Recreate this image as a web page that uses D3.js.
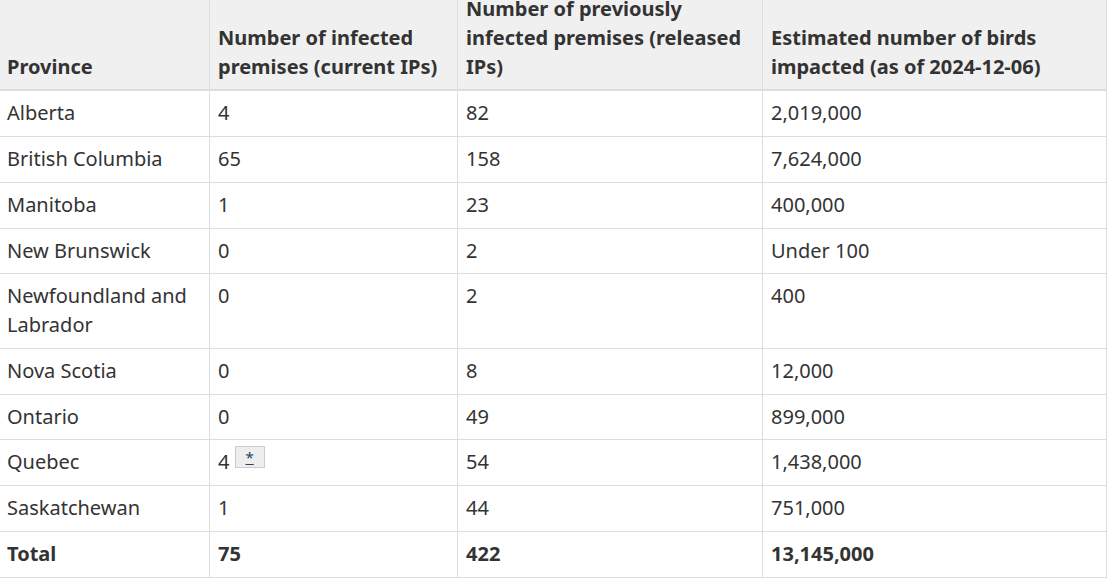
<!DOCTYPE html>
<html><head><meta charset="utf-8">
<script src="https://cdn.jsdelivr.net/npm/d3@7"></script>
<style>
html,body{margin:0;padding:0;background:#fff;overflow:hidden;width:1117px;height:585px;}
body{font-family:"Noto Sans",sans-serif;font-size:20px;line-height:1.4375;color:#333;}
#wrap{position:absolute;left:-2px;top:-14px;}
table{border-collapse:collapse;table-layout:fixed;}
th,td{border:1px solid #ddd;padding:8px;text-align:left;}
thead th{background:#f0f0f0;vertical-align:bottom;border-bottom:2px solid #ddd;font-weight:700;}
td{vertical-align:top;}
tr.total td{font-weight:700;}
.fn{display:inline-block;position:relative;top:-2px;vertical-align:top;box-sizing:border-box;width:30px;height:22px;line-height:20px;font-size:15px;text-align:center;background:#eee;border:1px solid #ccc;}
.fn a{color:#284162;text-decoration:underline;}
</style></head>
<body><div id="wrap"></div>
<script>
const headers = ["Province", "Number of infected premises (current IPs)", "Number of previously infected premises (released IPs)", "Estimated number of birds impacted (as of 2024-12-06)"];
const provinces = ["Alberta", "British Columbia", "Manitoba", "New Brunswick", "Newfoundland and Labrador", "Nova Scotia", "Ontario", "Quebec", "Saskatchewan"];
const currentIPs = [4, 65, 1, 0, 0, 0, 0, 4, 1];
const releasedIPs = [82, 158, 23, 2, 2, 8, 49, 54, 44];
const birdsImpacted = ["2,019,000", "7,624,000", "400,000", "Under 100", "400", "12,000", "899,000", "1,438,000", "751,000"];
const footnoteProvinces = ["Quebec"];
const totalRow = ["Total", "75", "422", "13,145,000"];
const colWidths = [211, 248, 305, 344];

const table = d3.select("#wrap").append("table").style("width", d3.sum(colWidths) + "px");
table.append("colgroup").selectAll("col").data(colWidths).join("col").style("width", d => d + "px");
table.append("thead").append("tr").selectAll("th").data(headers).join("th").text(d => d);

const rows = provinces.map((p, i) => ({cells: [p, String(currentIPs[i]), String(releasedIPs[i]), birdsImpacted[i]], fn: footnoteProvinces.includes(p)}));
const tbody = table.append("tbody");
const tr = tbody.selectAll("tr.data").data(rows).join("tr").attr("class", "data");
tr.selectAll("td").data(r => r.cells.map((c, j) => ({c, j, fn: r.fn}))).join("td").each(function(d) {
  const td = d3.select(this);
  td.text(d.c);
  if (d.fn && d.j === 1) {
    td.append("span").text(" ");
    td.append("sup").attr("class", "fn").append("a").text("*");
  }
});
tbody.append("tr").attr("class", "total").selectAll("td").data(totalRow).join("td").text(d => d);
</script>
</body></html>
